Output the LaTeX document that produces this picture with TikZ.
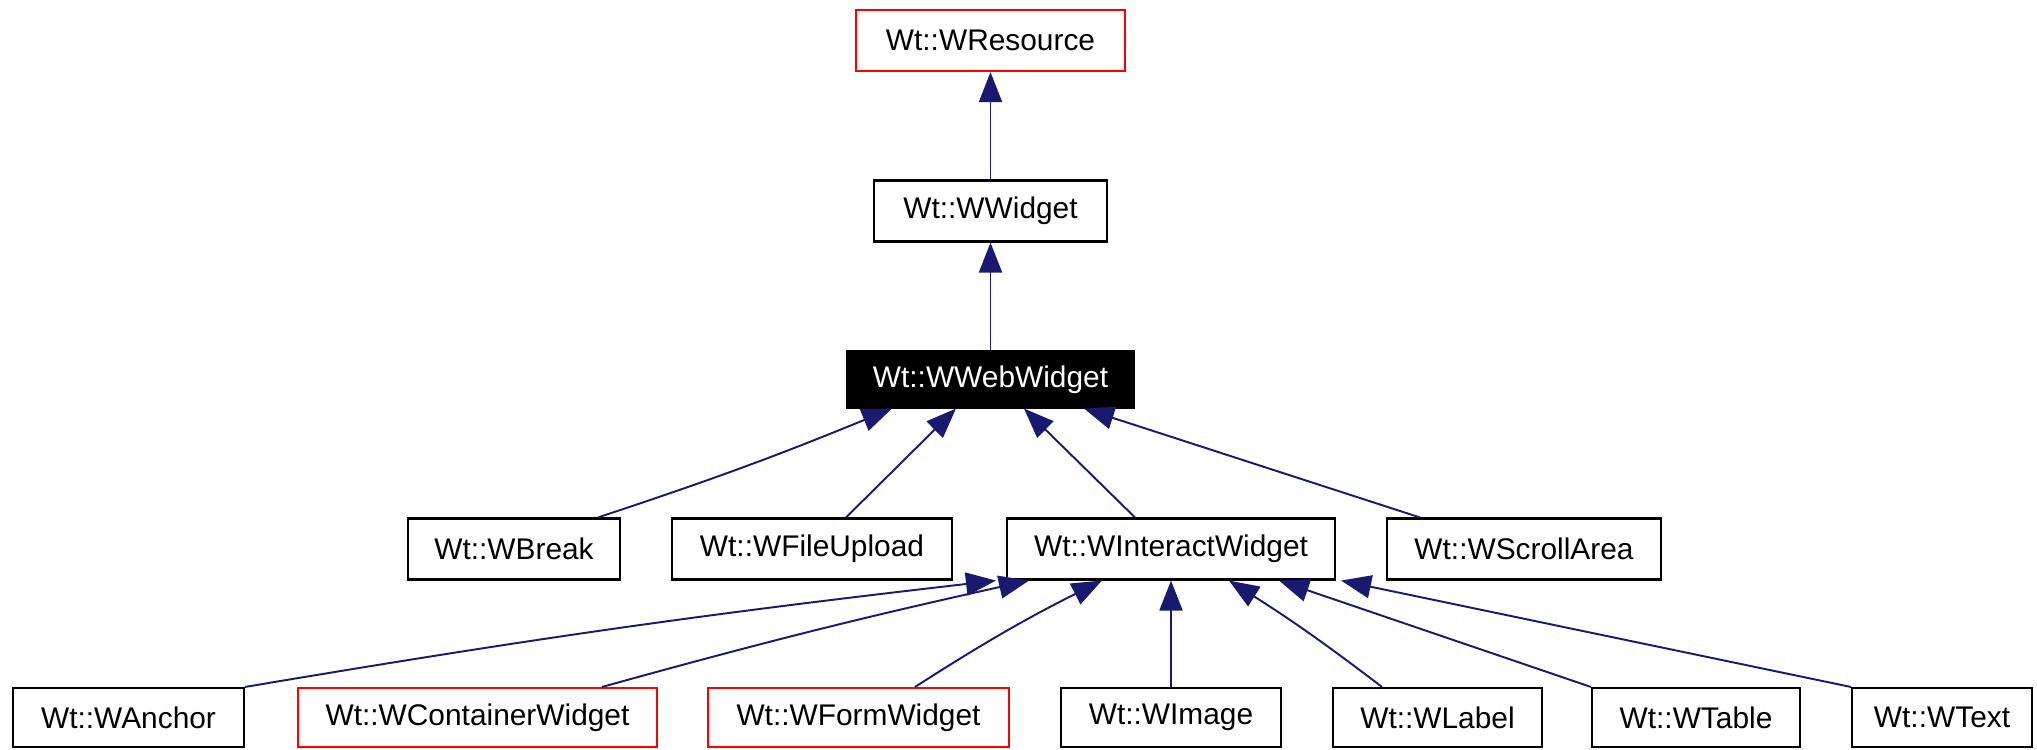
\documentclass[tikz,border=0pt]{standalone}
\usepackage{fontspec}
\setmainfont{Liberation Sans}
\usetikzlibrary{arrows.meta}
\definecolor{edgeblue}{HTML}{191970}
\begin{document}
\begin{tikzpicture}[
    cls/.style={draw=black, line width=0.6pt, minimum height=0.61cm, inner sep=0pt, font=\fontsize{8.5}{10}\selectfont},
    clsred/.style={cls, draw=red},
    clsthis/.style={cls, fill=black, text=white},
    inh/.style={edgeblue, line width=0.55pt, -{Triangle[length=3mm,width=2.3mm]}},
  ]
    \useasboundingbox (0,0) rectangle (20.37,7.49);

    % top of the hierarchy
    \node [clsred, minimum width=2.69cm] (WResource) at (9.905,7.085) {Wt::WResource};
    \node [cls, minimum width=2.33cm] (WWidget) at (9.905,5.38) {Wt::WWidget};
    \node [clsthis, minimum width=2.87cm, minimum height=0.56cm] (WWebWidget) at (9.905,3.695) {Wt::WWebWidget};

    % direct subclasses
    \node [cls, minimum width=2.12cm] (WBreak) at (5.14,2.00) {Wt::WBreak};
    \node [cls, minimum width=2.80cm] (WFileUpload) at (8.12,2.00) {Wt::WFileUpload};
    \node [cls, minimum width=3.28cm] (WInteractWidget) at (11.71,2.00) {Wt::WInteractWidget};
    \node [cls, minimum width=2.74cm] (WScrollArea) at (15.24,2.00) {Wt::WScrollArea};

    % subclasses of WInteractWidget
    \node [cls, minimum width=2.31cm, minimum height=0.59cm] (WAnchor) at (1.285,0.315) {Wt::WAnchor};
    \node [clsred, minimum width=3.59cm, minimum height=0.59cm] (WContainerWidget) at (4.775,0.315) {Wt::WContainerWidget};
    \node [clsred, minimum width=3.01cm, minimum height=0.59cm] (WFormWidget) at (8.585,0.315) {Wt::WFormWidget};
    \node [cls, minimum width=2.20cm, minimum height=0.59cm] (WImage) at (11.71,0.315) {Wt::WImage};
    \node [cls, minimum width=2.09cm, minimum height=0.59cm] (WLabel) at (14.375,0.315) {Wt::WLabel};
    \node [cls, minimum width=2.08cm, minimum height=0.59cm] (WTable) at (16.96,0.315) {Wt::WTable};
    \node [cls, minimum width=1.80cm, minimum height=0.59cm] (WText) at (19.42,0.315) {Wt::WText};

    \draw[inh] (WWidget) -- (WResource);
    \draw[inh] (WWebWidget) -- (WWidget);

    \draw[inh] ([xshift=0.84cm]WBreak.north) to[bend right=2] ([xshift=0.46cm]WWebWidget.south west);
    \draw[inh] ([xshift=0.34cm]WFileUpload.north) -- ([xshift=1.10cm]WWebWidget.south west);
    \draw[inh] ([xshift=-0.36cm]WInteractWidget.north) -- ([xshift=0.335cm]WWebWidget.south);
    \draw[inh] ([xshift=0.34cm]WScrollArea.north west) -- ([xshift=-0.51cm]WWebWidget.south east);

    \draw[inh] (WAnchor.north east) to[bend left=1.5] ([xshift=-0.10cm]WInteractWidget.south west);
    \draw[inh] ([xshift=1.245cm]WContainerWidget.north) to[bend left=1.5] ([xshift=0.23cm]WInteractWidget.south west);
    \draw[inh] ([xshift=0.565cm]WFormWidget.north) to[bend left=3] ([xshift=0.96cm]WInteractWidget.south west);
    \draw[inh] (WImage) -- (WInteractWidget);
    \draw[inh] ([xshift=-0.555cm]WLabel.north) to[bend right=2.5] ([xshift=0.58cm]WInteractWidget.south);
    \draw[inh] (WTable.north west) -- ([xshift=1.08cm]WInteractWidget.south);
    \draw[inh] (WText.north west) -- ([xshift=0.05cm]WInteractWidget.south east);
\end{tikzpicture}
\end{document}
